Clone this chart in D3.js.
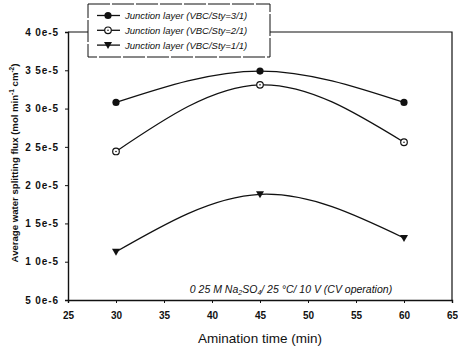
<!DOCTYPE html>
<html>
<head>
<meta charset="utf-8">
<script src="https://cdn.jsdelivr.net/npm/d3@7"></script>
<style>
  body { margin: 0; background: #fff; }
  text { font-family: "Liberation Sans", Arial, sans-serif; fill: #111; }
</style>
</head>
<body>
<div class="graph"></div>
<script>
// data
const aminationTime = [30, 45, 60];
const fluxRatio31 = [3.08e-5, 3.49e-5, 3.08e-5];
const fluxRatio21 = [2.44e-5, 3.31e-5, 2.56e-5];
const fluxRatio11 = [1.13e-5, 1.88e-5, 1.31e-5];
const seriesNames = [
  "Junction layer (VBC/Sty=3/1)",
  "Junction layer (VBC/Sty=2/1)",
  "Junction layer (VBC/Sty=1/1)",
];
const xTicks = [25, 30, 35, 40, 45, 50, 55, 60, 65];
const yTicks = [5e-6, 1e-5, 1.5e-5, 2e-5, 2.5e-5, 3e-5, 3.5e-5, 4e-5];
const yTickLabels = ["5 0e-6", "1 0e-5", "1 5e-5", "2 0e-5", "2 5e-5", "3 0e-5", "3 5e-5", "4 0e-5"];

const width = 458, height = 349;
const margins = { top: 32, right: 6, bottom: 49, left: 68 };
const innerW = width - margins.left - margins.right;
const innerH = height - margins.top - margins.bottom;

const svg = d3
  .select(".graph")
  .append("svg")
  .attr("width", width)
  .attr("height", height);

const g = svg.append("g").attr("transform", `translate(${margins.left},${margins.top})`);

const x = d3.scaleLinear().domain([25, 65]).range([0, innerW]);
const y = d3.scaleLinear().domain([5e-6, 4e-5]).range([innerH, 0]);

// frame (top and right)
g.append("path")
  .attr("d", `M0,0H${innerW}V${innerH}`)
  .attr("fill", "none")
  .attr("stroke", "#111")
  .attr("stroke-width", 1.2);

// Axes
const xAxis = d3.axisBottom(x).tickValues(xTicks).tickSize(3).tickFormat(d3.format("d"));
const yAxis = d3.axisLeft(y).tickValues(yTicks).tickSize(3)
  .tickFormat((d, i) => yTickLabels[i]);

const gx = g.append("g").attr("transform", `translate(0,${innerH})`).call(xAxis);
const gy = g.append("g").call(yAxis);

[gx, gy].forEach((ax) => {
  ax.select(".domain").attr("stroke", "#111").attr("stroke-width", 1.4);
  ax.selectAll(".tick line").attr("stroke", "#111").attr("stroke-width", 1);
  ax.selectAll("text")
    .attr("font-size", 10)
    .attr("font-weight", "bold")
    .attr("font-family", "Liberation Sans, Arial, sans-serif")
    .attr("fill", "#111");
});
gx.selectAll("text").attr("dy", "1.3em");
gy.selectAll("text").attr("dx", "-0.3em").attr("letter-spacing", 0.9);

// Series
const series = [
  { name: seriesNames[0], values: fluxRatio31, marker: "filled" },
  { name: seriesNames[1], values: fluxRatio21, marker: "open" },
  { name: seriesNames[2], values: fluxRatio11, marker: "triangle" },
];

const line = d3
  .line()
  .x((d) => x(d.t))
  .y((d) => y(d.v))
  .curve(d3.curveNatural);

function drawMarker(sel, type, cx, cy) {
  if (type === "filled") {
    sel.append("circle").attr("cx", cx).attr("cy", cy).attr("r", 3.6).attr("fill", "#111");
  } else if (type === "open") {
    sel.append("circle").attr("cx", cx).attr("cy", cy).attr("r", 3.3)
      .attr("fill", "#fff").attr("stroke", "#111").attr("stroke-width", 1.2);
    sel.append("circle").attr("cx", cx).attr("cy", cy).attr("r", 0.8).attr("fill", "#111");
  } else {
    sel.append("path")
      .attr("d", `M${cx - 4},${cy - 3}L${cx + 4},${cy - 3}L${cx},${cy + 4}Z`)
      .attr("fill", "#111");
  }
}

series.forEach((s) => {
  const pts = aminationTime.map((t, i) => ({ t, v: s.values[i] }));
  g.append("path")
    .datum(pts)
    .attr("fill", "none")
    .attr("stroke", "#111")
    .attr("stroke-width", 1.3)
    .attr("d", line);
  const mg = g.append("g");
  pts.forEach((p) => drawMarker(mg, s.marker, x(p.t), y(p.v)));
});

// Legend
const legend = svg.append("g").attr("transform", "translate(88,4)");
legend.append("rect")
  .attr("width", 182)
  .attr("height", 53)
  .attr("fill", "#fff")
  .attr("stroke", "#111")
  .attr("stroke-width", 1)
  .attr("stroke-dasharray", "22,2");

series.forEach((s, i) => {
  const ly = 11.5 + i * 14.8;
  legend.append("line")
    .attr("x1", 9).attr("x2", 32)
    .attr("y1", ly).attr("y2", ly)
    .attr("stroke", "#111").attr("stroke-width", 1.3);
  drawMarker(legend, s.marker, 20, ly);
  legend.append("text")
    .attr("x", 37)
    .attr("y", ly + 3.4)
    .attr("font-size", 9.5)
    .attr("font-style", "italic")
    .text(s.name);
});

// Annotation
const note = svg.append("text")
  .attr("x", 291)
  .attr("y", 293)
  .attr("text-anchor", "middle")
  .attr("font-size", 10.5)
  .attr("font-style", "italic");
note.append("tspan").text("0 25 M Na");
note.append("tspan").attr("font-size", 7).attr("dy", 2).text("2");
note.append("tspan").attr("dy", -2).text("SO");
note.append("tspan").attr("font-size", 7).attr("dy", 2).text("4");
note.append("tspan").attr("dy", -2).text("/ 25 °C/ 10 V (CV operation)");

// Axis titles
svg.append("text")
  .attr("x", margins.left + innerW / 2)
  .attr("y", 343)
  .attr("text-anchor", "middle")
  .attr("font-size", 13.5)
  .text("Amination time (min)");

const yTitle = svg.append("text")
  .attr("transform", `translate(18,163) rotate(-90)`)
  .attr("text-anchor", "middle")
  .attr("font-size", 9.6)
  .attr("font-weight", "bold");
yTitle.append("tspan").text("Average water splitting flux (mol min");
yTitle.append("tspan").attr("font-size", 6.5).attr("dy", -4).text("-1");
yTitle.append("tspan").attr("dy", 4).text(" cm");
yTitle.append("tspan").attr("font-size", 6.5).attr("dy", -4).text("-2");
yTitle.append("tspan").attr("dy", 4).text(")");
</script>
</body>
</html>
